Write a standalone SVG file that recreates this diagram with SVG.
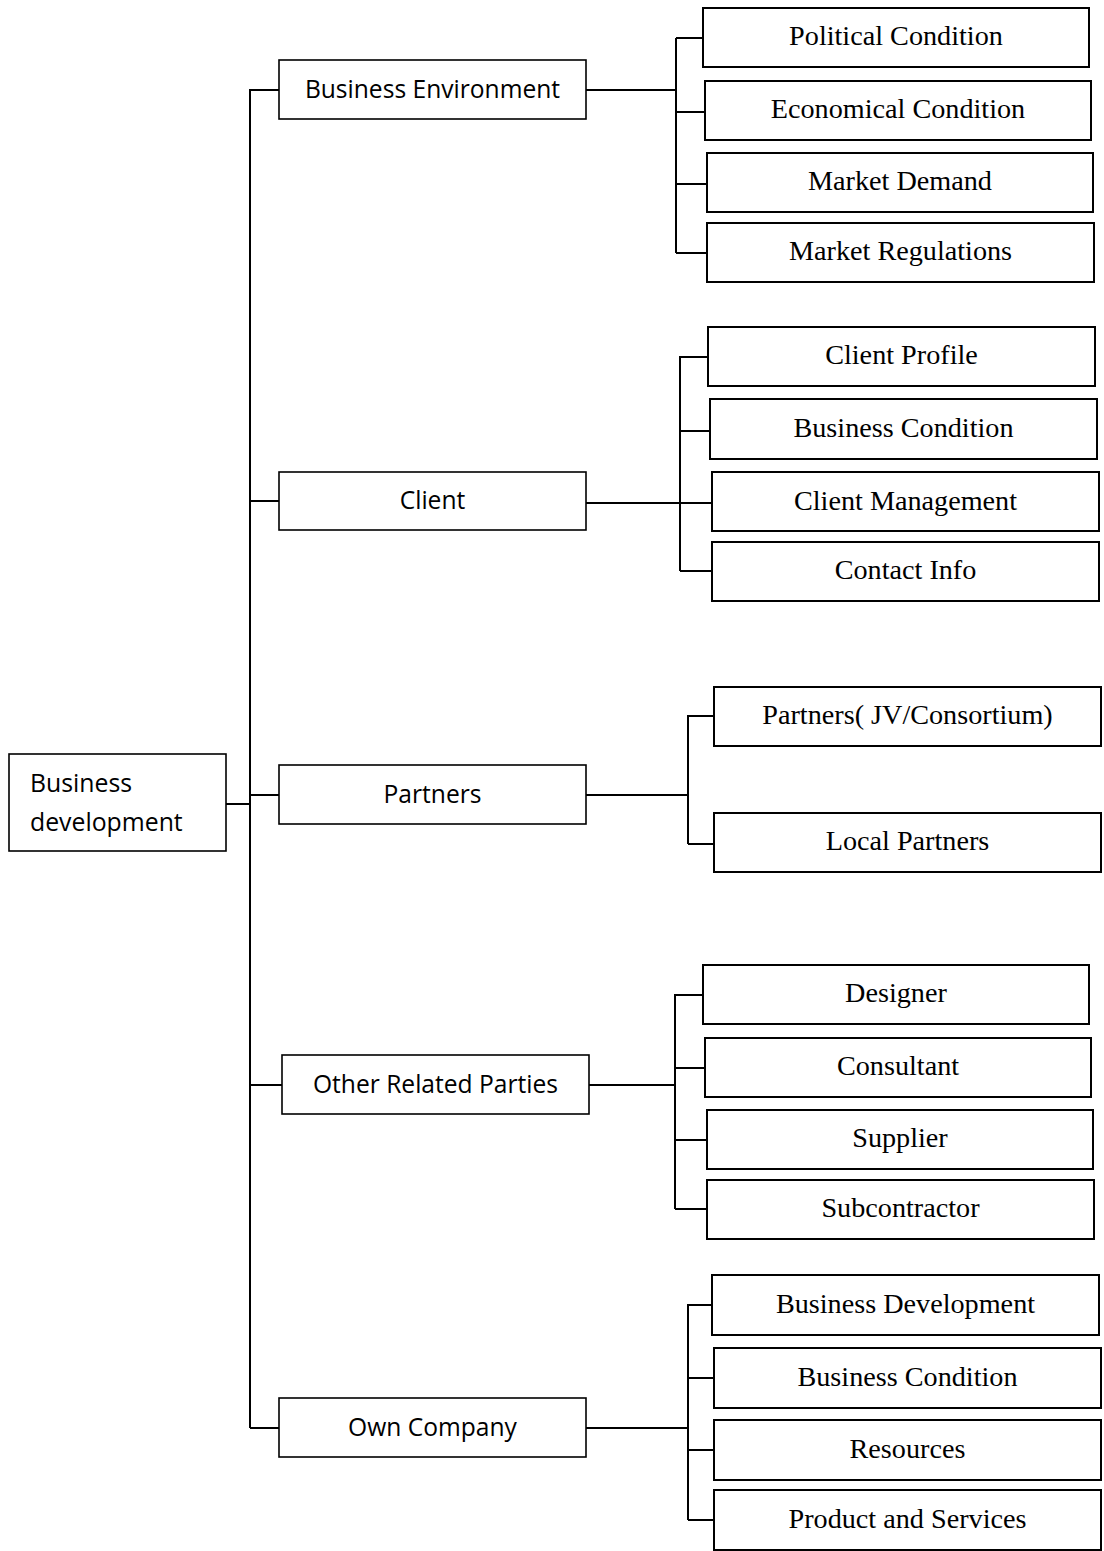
<svg xmlns="http://www.w3.org/2000/svg" width="1104" height="1551" viewBox="0 0 1104 1551">
<style>
.b1{fill:#fff;stroke:#000;stroke-width:1.6}
.b2{fill:#fff;stroke:#000;stroke-width:2}
.t1{font-family:"Open Sans","Liberation Sans",sans-serif;font-size:24.6px;fill:#000;text-anchor:middle}
.t0{font-family:"Open Sans","Liberation Sans",sans-serif;font-size:24.8px;fill:#000}
.t2{font-family:"Liberation Serif","Times New Roman",serif;font-size:28.2px;fill:#000;text-anchor:middle}
.c{fill:none;stroke:#000;stroke-width:2}
</style>
<rect width="1104" height="1551" fill="#fff"/>
<g id="connectors">
<path class="c" d="M226,804H250M250,89V1428M250,90H279M250,501H279M250,795H279M250,1085H282M250,1428H279"/>
<path class="c" d="M586,90H676M676,38V253M676,38H703M676,112H705M676,184H707M676,253H707"/>
<path class="c" d="M586,503H680M680,356V571M680,357H708M680,431H710M680,503H712M680,571H712"/>
<path class="c" d="M586,795H688M688,715V844M688,716H714M688,844H714"/>
<path class="c" d="M589,1085H675M675,994V1209M675,995H703M675,1068H705M675,1140H707M675,1209H707"/>
<path class="c" d="M586,1428H688M688,1304V1520M688,1305H712M688,1378H714M688,1450H714M688,1520H714"/>
</g>
<g id="root"><rect class="b1" x="9" y="754" width="217" height="97"/><text class="t0" x="30" y="792">Business</text><text class="t0" x="30" y="831">development</text></g>
<g id="business-environment"><rect class="b1" x="279" y="60" width="307" height="59"/><text class="t1" x="432.5" y="98">Business Environment</text></g>
<g id="client"><rect class="b1" x="279" y="472" width="307" height="58"/><text class="t1" x="432.5" y="509">Client</text></g>
<g id="partners"><rect class="b1" x="279" y="765" width="307" height="59"/><text class="t1" x="432.5" y="803">Partners</text></g>
<g id="other-related-parties"><rect class="b1" x="282" y="1055" width="307" height="59"/><text class="t1" x="435.5" y="1093">Other Related Parties</text></g>
<g id="own-company"><rect class="b1" x="279" y="1398" width="307" height="59"/><text class="t1" x="432.5" y="1436">Own Company</text></g>
<g id="political-condition"><rect class="b2" x="703" y="8" width="386" height="59"/><text class="t2" x="896" y="45">Political Condition</text></g>
<g id="economical-condition"><rect class="b2" x="705" y="81" width="386" height="59"/><text class="t2" x="898" y="118">Economical Condition</text></g>
<g id="market-demand"><rect class="b2" x="707" y="153" width="386" height="59"/><text class="t2" x="900" y="190">Market Demand</text></g>
<g id="market-regulations"><rect class="b2" x="707" y="223" width="387" height="59"/><text class="t2" x="900.5" y="260">Market Regulations</text></g>
<g id="client-profile"><rect class="b2" x="708" y="327" width="387" height="59"/><text class="t2" x="901.5" y="364">Client Profile</text></g>
<g id="client-business-condition"><rect class="b2" x="710" y="399" width="387" height="60"/><text class="t2" x="903.5" y="437">Business Condition</text></g>
<g id="client-management"><rect class="b2" x="712" y="472" width="387" height="59"/><text class="t2" x="905.5" y="510">Client Management</text></g>
<g id="contact-info"><rect class="b2" x="712" y="542" width="387" height="59"/><text class="t2" x="905.5" y="579">Contact Info</text></g>
<g id="partners-jv"><rect class="b2" x="714" y="687" width="387" height="59"/><text class="t2" x="907.5" y="724">Partners( JV/Consortium)</text></g>
<g id="local-partners"><rect class="b2" x="714" y="813" width="387" height="59"/><text class="t2" x="907.5" y="850">Local Partners</text></g>
<g id="designer"><rect class="b2" x="703" y="965" width="386" height="59"/><text class="t2" x="896" y="1002">Designer</text></g>
<g id="consultant"><rect class="b2" x="705" y="1038" width="386" height="59"/><text class="t2" x="898" y="1075">Consultant</text></g>
<g id="supplier"><rect class="b2" x="707" y="1110" width="386" height="59"/><text class="t2" x="900" y="1147">Supplier</text></g>
<g id="subcontractor"><rect class="b2" x="707" y="1180" width="387" height="59"/><text class="t2" x="900.5" y="1217">Subcontractor</text></g>
<g id="business-development"><rect class="b2" x="712" y="1275" width="387" height="60"/><text class="t2" x="905.5" y="1313">Business Development</text></g>
<g id="own-business-condition"><rect class="b2" x="714" y="1348" width="387" height="60"/><text class="t2" x="907.5" y="1386">Business Condition</text></g>
<g id="resources"><rect class="b2" x="714" y="1420" width="387" height="60"/><text class="t2" x="907.5" y="1458">Resources</text></g>
<g id="product-and-services"><rect class="b2" x="714" y="1490" width="387" height="60"/><text class="t2" x="907.5" y="1528">Product and Services</text></g>
</svg>
